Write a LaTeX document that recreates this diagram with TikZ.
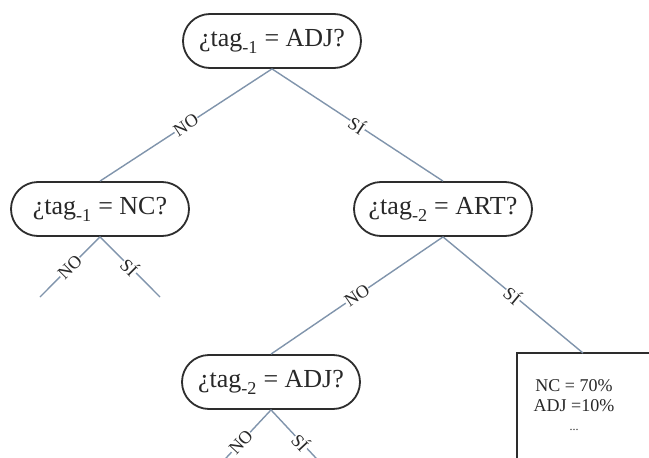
\documentclass[tikz,border=0pt]{standalone}
\usepackage{fontspec}
\setmainfont{Liberation Serif}
\usetikzlibrary{shapes.misc}
\definecolor{branchcol}{RGB}{128,148,172}
\definecolor{boxcol}{RGB}{45,45,45}
\definecolor{txtcol}{RGB}{40,40,40}
\tikzset{
  decision/.style={rounded rectangle, draw=boxcol, line width=1.8pt, minimum width=178pt, minimum height=54pt, inner sep=0pt, text=txtcol, font=\fontsize{26}{30}\selectfont},
  branch/.style={draw=branchcol, line width=1.4pt},
  lbl/.style={sloped, fill=white, inner sep=0.5pt, text=txtcol, font=\fontsize{18}{20}\selectfont},
  leafbox/.style={draw=boxcol, line width=1.8pt},
  leaftext/.style={align=center, text=txtcol, font=\fontsize{18}{21}\selectfont, inner sep=0pt}
}
\newcommand{\lowsub}[1]{\smash{\raisebox{-0.12em}{\textsubscript{#1}}}}
\begin{document}
\begin{tikzpicture}[x=1pt,y=-1pt]
\useasboundingbox (0,0) rectangle (649,458);
\clip (0,0) rectangle (649,458);
\fill[white] (0,0) rectangle (649,458);
\node[decision] (T) at (272,41) {¿tag\lowsub{-1} = ADJ?};
\node[decision] (L) at (100,209) {¿tag\lowsub{-1} = NC?};
\node[decision] (R) at (443,209) {¿tag\lowsub{-2} = ART?};
\node[decision] (B) at (271,382) {¿tag\lowsub{-2} = ADJ?};
\coordinate (leaftop) at (583,353);
\coordinate (ll) at (40,297);
\coordinate (lr) at (160,297);
\coordinate (bl) at (213,472);
\coordinate (br) at (329,472);
\node[leaftext] (leaf) at (574,405) {NC = 70\%\\[-1pt]ADJ =10\%\\[-2pt]{\fontsize{12}{14}\selectfont ...}};
\draw[leafbox] (517,480) -- (517,353) -- (680,353);
\draw[branch] (T.south) -- node[lbl]{NO} (L.north);
\draw[branch] (T.south) -- node[lbl]{SÍ} (R.north);
\draw[branch] (L.south) -- node[lbl]{NO} (ll);
\draw[branch] (L.south) -- node[lbl]{SÍ} (lr);
\draw[branch] (R.south) -- node[lbl]{NO} (B.north);
\draw[branch] (R.south) -- node[lbl]{SÍ} (leaftop);
\draw[branch] (B.south) -- node[lbl,pos=0.52]{NO} (bl);
\draw[branch] (B.south) -- node[lbl,pos=0.52]{SÍ} (br);
\end{tikzpicture}
\end{document}
